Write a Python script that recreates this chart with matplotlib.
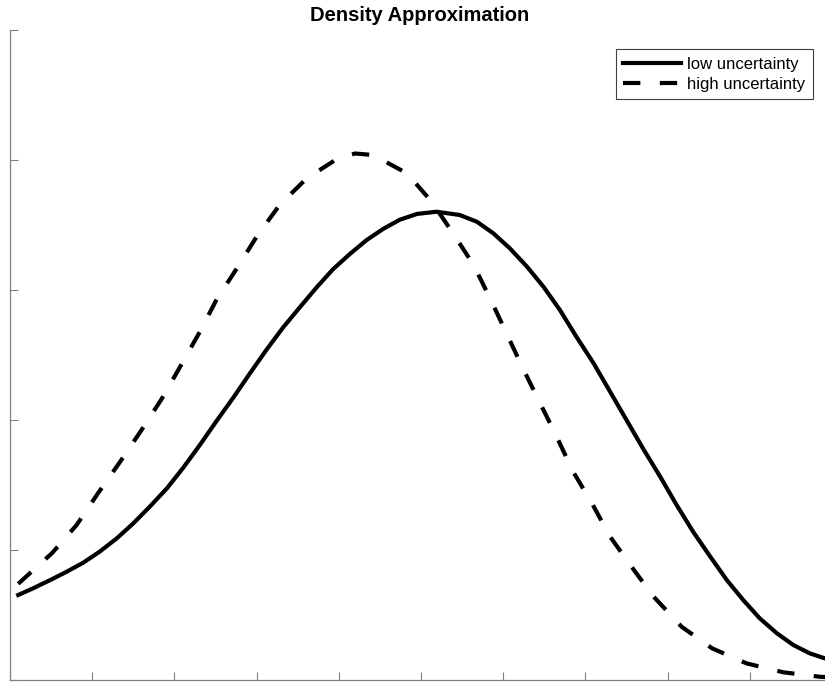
import matplotlib.pyplot as plt
import numpy as np

plt.rcParams['font.family'] = ['Liberation Sans', 'DejaVu Sans']
plt.rcParams['lines.scale_dashes'] = False

# density estimates for the two uncertainty levels
x_low = [0.10, 0.28, 0.49, 0.69, 0.89, 1.09, 1.30, 1.50, 1.70, 1.91,
         2.11, 2.31, 2.51, 2.72, 2.92, 3.12, 3.32, 3.53, 3.73, 3.93,
         4.14, 4.34, 4.54, 4.74, 4.95, 5.19, 5.47, 5.68, 5.88, 6.08,
         6.29, 6.49, 6.69, 6.89, 7.10, 7.30, 7.50, 7.70, 7.91, 8.11,
         8.31, 8.52, 8.72, 8.92, 9.12, 9.33, 9.53, 9.73, 9.91, 10.0]
y_low = [0.654, 0.705, 0.769, 0.833, 0.902, 0.987, 1.090, 1.205, 1.333, 1.475,
         1.635, 1.808, 1.990, 2.175, 2.360, 2.540, 2.710, 2.870, 3.020, 3.160,
         3.280, 3.385, 3.470, 3.540, 3.585, 3.602, 3.577, 3.525, 3.436, 3.321,
         3.179, 3.025, 2.846, 2.641, 2.436, 2.218, 2.000, 1.782, 1.564, 1.346,
         1.141, 0.948, 0.769, 0.615, 0.475, 0.359, 0.269, 0.205, 0.167, 0.155]

x_high = [0.10, 0.51, 0.81, 1.07, 1.34, 1.60, 1.85, 2.07, 2.31, 2.51,
          2.76, 3.00, 3.28, 3.61, 3.99, 4.20, 4.42, 4.83, 5.13, 5.39,
          5.64, 5.84, 6.04, 6.24, 6.45, 6.65, 6.85, 7.08, 7.30, 7.56,
          7.83, 8.17, 8.54, 8.96, 9.41, 9.85, 10.0]
y_high = [0.740, 0.975, 1.192, 1.436, 1.679, 1.923, 2.167, 2.410, 2.679, 2.923,
          3.167, 3.410, 3.654, 3.859, 4.013, 4.050, 4.038, 3.897, 3.679, 3.436,
          3.192, 2.936, 2.667, 2.397, 2.128, 1.872, 1.603, 1.359, 1.103, 0.872,
          0.641, 0.410, 0.244, 0.128, 0.059, 0.025, 0.020]

fig = plt.figure(figsize=(8.25, 6.83), dpi=100)
ax = fig.add_axes([10 / 825, 3 / 683, 822 / 825, 650 / 683])

ax.plot(x_low, y_low, color='black', linewidth=3, label='low uncertainty')
ax.plot(x_high, y_high, color='black', linewidth=3, dashes=(12.5, 14),
        label='high uncertainty')

ax.set_xlim(0, 10)
ax.set_ylim(0, 5)
ax.set_xticks(np.arange(0, 11))
ax.set_yticks(np.arange(0, 6))
ax.set_xticklabels([])
ax.set_yticklabels([])
ax.tick_params(direction='in', length=6, width=0.8, color='#808080')
for side in ['top', 'right']:
    ax.spines[side].set_visible(False)
for side in ['left', 'bottom']:
    ax.spines[side].set_color('#808080')
    ax.spines[side].set_linewidth(0.9)

fig.text(420 / 825, 1 - 21 / 683, 'Density Approximation', ha='center',
         va='baseline', fontsize=14.5, fontweight='bold')

leg = ax.legend(loc='upper right', bbox_to_anchor=(813 / 825, 1 - 49 / 683),
                bbox_transform=fig.transFigure, borderaxespad=0,
                fontsize=12, handlelength=3.45, handletextpad=0.4,
                fancybox=False, framealpha=1, borderpad=0.45,
                labelspacing=0.3)
leg.get_frame().set_edgecolor('#404040')
leg.get_frame().set_linewidth(0.8)

plt.savefig('out.png', dpi=100)
